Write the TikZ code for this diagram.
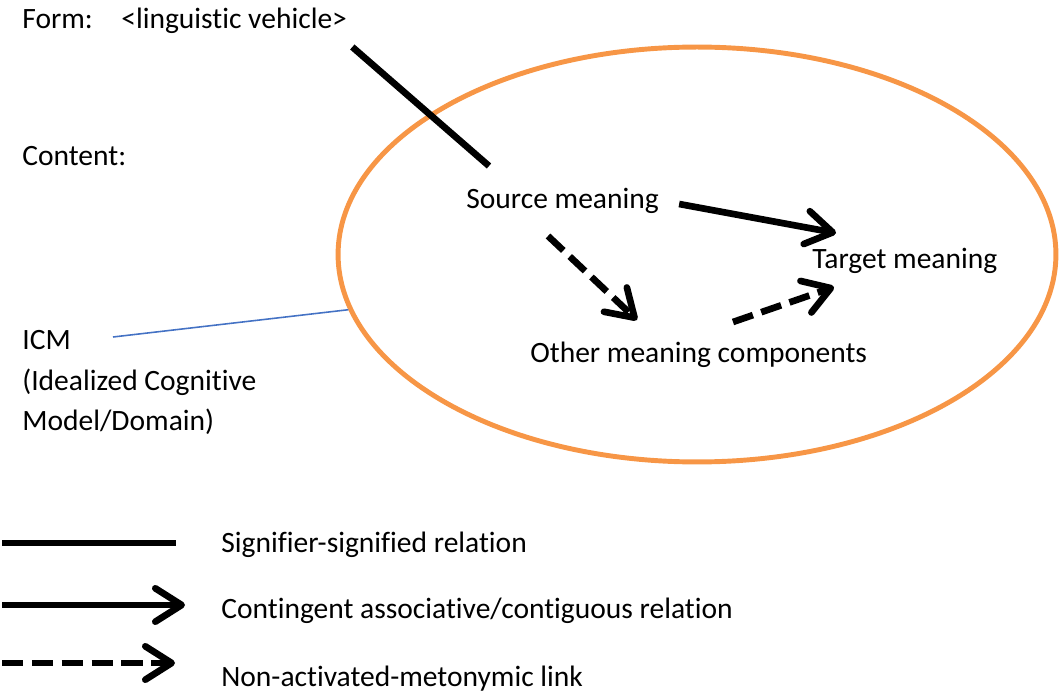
\documentclass[tikz,border=0pt]{standalone}
\usepackage{fontspec}
\setmainfont{Carlito}[Ligatures=CommonOff]
\usetikzlibrary{arrows.meta,calc,shapes.geometric}
\definecolor{icmorange}{HTML}{F79646}
\definecolor{icmblue}{HTML}{4472C4}
\tikzset{
  txt/.style={anchor=base west, inner sep=0pt},
  signline/.style={line width=3.8pt},
  assoc/.style={line width=3.8pt, -{Straight Barb[length=15pt, width=19pt, round]}},
  nonact/.style={assoc, dash pattern=on 12pt off 5pt},
}

\begin{document}
\begin{tikzpicture}[x=0.02cm, y=-0.02cm, font=\fontsize{16.8}{23}\selectfont]
\useasboundingbox (0,0) rectangle (1061,692);

\node (domain) at (697, 254.5) [ellipse, draw=icmorange, line width=2.8pt, minimum width=14.36cm, minimum height=8.3cm, inner sep=0pt] {};

\node (form) at (22, 29) [txt] {Form:};
\node (vehicle) at (121, 29) [txt] {<linguistic vehicle>};
\node (content) at (22, 166) [txt] {Content:};

\node (icm) at (22, 350) [txt] {ICM};
\node (icm2) at (22, 390) [txt] {(Idealized Cognitive};
\node (icm3) at (22, 430) [txt] {Model/Domain)};
\draw[icmblue, line width=0.9pt] ($(icm.base west)+(91,-13)$) to (domain.189.4);

\node (source) at (466, 209) [txt] {Source meaning};
\node (target) at (812, 269) [txt] {Target meaning};
\node (other) at (530, 362) [txt] {Other meaning components};

\draw[signline] ($(vehicle.base east)+(5,18)$) to ($(source.base west)+(23,-43)$);
\draw[assoc] ($(source.base east)+(20,-5)$) to ($(target.base west)+(24,-36)$);
\draw[nonact] ($(source.base west)+(82,27)$) to ($(other.base west)+(107,-42)$);
\draw[nonact] ($(other.base west)+(203,-40)$) to ($(target.base west)+(22,18)$);

% legend
\node (sigtxt) at (221, 552) [txt] {Signifier-signified relation};
\node (conttxt) at (221, 618) [txt] {Contingent associative/contiguous relation};
\node (nonacttxt) at (221, 686) [txt] {Non-activated-metonymic link};
\coordinate (key1) at (2, 543);
\coordinate (key2) at (2, 605);
\coordinate (key3) at (2, 663);
\draw[signline] (key1) -- ($(sigtxt.base west)+(-45,-9)$);
\draw[assoc] (key2) -- ($(conttxt.base west)+(-36,-13)$);
\draw[nonact] (key3) -- ($(nonacttxt.base west)+(-46,-23)$);
\end{tikzpicture}
\end{document}
